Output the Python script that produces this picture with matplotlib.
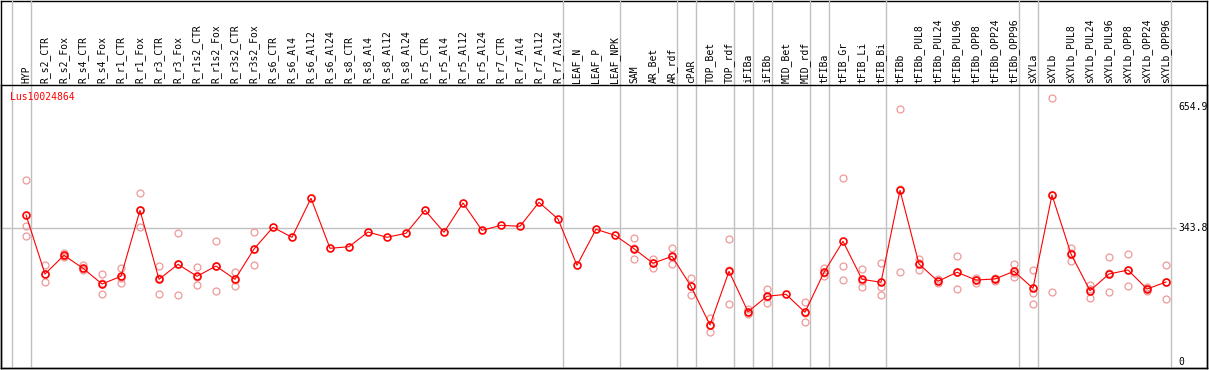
import numpy as np
import matplotlib
matplotlib.use('Agg')
import matplotlib.pyplot as plt
import matplotlib.transforms as mtransforms

gene = 'Lus10024864'

samples = ['HYP', 'R_s2_CTR', 'R_s2_Fox', 'R_s4_CTR', 'R_s4_Fox', 'R_r1_CTR', 'R_r1_Fox',
           'R_r3_CTR', 'R_r3_Fox', 'R_r1s2_CTR', 'R_r1s2_Fox', 'R_r3s2_CTR', 'R_r3s2_Fox',
           'R_s6_CTR', 'R_s6_Al4', 'R_s6_Al12', 'R_s6_Al24', 'R_s8_CTR', 'R_s8_Al4',
           'R_s8_Al12', 'R_s8_Al24', 'R_r5_CTR', 'R_r5_Al4', 'R_r5_Al12', 'R_r5_Al24',
           'R_r7_CTR', 'R_r7_Al4', 'R_r7_Al12', 'R_r7_Al24', 'LEAF_N', 'LEAF_P', 'LEAF_NPK',
           'SAM', 'AR_Bet', 'AR_rdf', 'cPAR', 'TOP_Bet', 'TOP_rdf', 'iFIBa', 'iFIBb',
           'MID_Bet', 'MID_rdf', 'tFIBa', 'tFIB_Gr', 'tFIB_Li', 'tFIB_Bi', 'tFIBb',
           'tFIBb_PUL8', 'tFIBb_PUL24', 'tFIBb_PUL96', 'tFIBb_OPP8', 'tFIBb_OPP24',
           'tFIBb_OPP96', 'sXYLa', 'sXYLb', 'sXYLb_PUL8', 'sXYLb_PUL24', 'sXYLb_PUL96',
           'sXYLb_OPP8', 'sXYLb_OPP24', 'sXYLb_OPP96']

# media de las replicas
media = [377.6, 225.7, 273.9, 240.4, 200.0, 219.8, 389.7, 212.1, 250.7, 219.8, 246.3, 212.1,
         290.1, 345.9, 320.2, 420.6, 291.9, 296.0, 333.8, 320.2, 330.5, 389.7, 333.1, 408.5,
         338.2, 351.1, 348.5, 410.3, 367.3, 248.1, 340.8, 325.4, 290.9, 253.3, 271.3, 194.1,
         94.5, 232.7, 128.7, 168.3, 173.5, 127.2, 230.1, 309.9, 212.1, 204.4, 441.2, 251.5,
         207.0, 230.1, 210.3, 212.9, 232.7, 188.9, 429.1, 277.2, 182.8, 225.7, 236.0, 187.1,
         205.1]

N = None
rep1 = [467.6, 248.1, 280.6, 248.1, 225.0, 241.2, 433.5, 245.6, 330.5, 243.8, 310.7, 230.9,
        333.1, N, N, N, N, N, N, N, N, N, N, N, N, N, N, N, N, N, N, N,
        317.6, 264.3, 291.9, 215.4, 113.3, 315.1, 135.6, 186.4, N,
        154.4, 241.2, 472.1, 237.8, 253.3, 649.7, 264.3, 211.6, 272.1, 216.2, 216.7, 251.5,
        235.3, 678.0, 292.7, 198.2, 269.5, 277.2, 191.5, 248.9]
rep2 = [348.5, 204.4, 268.7, 237.8, 173.5, 201.8, 345.9, 175.0, 170.9, 196.7, 181.2, 194.1,
        248.1, N, N, N, N, N, N, N, N, N, N, N, N, N, N, N, N, N, N, N,
        263.6, 241.2, 252.3, 170.9, 75.7, 147.7, 122.8, 151.1, N,
        101.4, 220.6, 245.6, 191.5, 193.1, 230.1, 235.3, 207.0, 186.4, 203.3, 212.9, 217.2,
        177.6, 179.4, 258.4, 164.0, 179.4, 194.9, 181.2, 161.4]
rep3 = [322.8, 224.7, 272.0, 235.3, 201.5, 216.2, 389.4, 215.4, 250.5, 218.8, 247.1, 211.1,
        289.1, N, N, N, N, N, N, N, N, N, N, N, N, N, N, N, N, N, N, N,
        291.6, 254.0, 269.5, 195.6, 94.5, 235.0, 127.9, 167.3, N,
        125.4, 228.3, 209.5, 206.7, 170.9, 443.5, 254.0, 202.6, 231.7, 211.1, 209.0, 229.1,
        147.7, 429.9, 280.6, 186.4, 228.3, 236.0, 189.7, 205.1]

# separadores de grupos (despues de la columna indicada)
grupos = [-1, 0, 28, 31, 34, 35, 37, 38, 39, 41, 42, 45, 52, 53, 60]

etiquetas_y = [654.9, 343.8, 0]

W, H = 1209, 370
fig = plt.figure(figsize=(W / 100, H / 100), dpi=100)

marco = fig.add_axes([1 / W, 2 / H, 1206 / W, 367.5 / H])
marco.set_xticks([])
marco.set_yticks([])
marco.patch.set_alpha(0)
for s in marco.spines.values():
    s.set_linewidth(1.0)
    s.set_color('black')

ax = fig.add_axes([1 / W, 2 / H, 1206 / W, 283 / H])
ax.patch.set_alpha(0)
ax.set_xticks([])
ax.set_yticks([])
for s in ax.spines.values():
    s.set_linewidth(1.0)
    s.set_color('black')
    s.set_zorder(5)

ax.set_xlim((1 - 26) / 19, (1207 - 26) / 19)
ax.set_ylim((361.7 - 368) / 0.3885, (361.7 - 85) / 0.3885)

x = np.arange(len(samples))
tr = mtransforms.blended_transform_factory(ax.transData, ax.transAxes)
tr_y = mtransforms.blended_transform_factory(ax.transAxes, ax.transData)

ax.vlines(np.array(grupos) + 0.25, 0, 368 / 283, transform=tr, colors='#c0c0c0',
          linewidth=1.0, clip_on=False, zorder=1)
ax.hlines(343.8, (1 - 26) / 19, (1176 - 26) / 19, colors='#c0c0c0', linewidth=1.0, zorder=1)

for i, nombre in enumerate(samples):
    ax.text(i, 1.007, nombre, transform=tr, rotation=90, ha='center', va='bottom',
            fontsize=7, family='DejaVu Sans Mono', clip_on=False)

for v in etiquetas_y:
    ax.text(0.9765, v, '%g' % v, transform=tr_y, ha='left', va='center',
            fontsize=7, family='DejaVu Sans Mono')

ax.text((10 - 1) / 1206, (368 - 97) / 283, gene, transform=ax.transAxes, ha='left',
        va='center', color='red', fontsize=7, family='DejaVu Sans Mono')

for rep in [rep1, rep2, rep3]:
    r = np.array([np.nan if v is None else v for v in rep])
    ax.plot(x, r, 'o', markersize=5, markerfacecolor='none', markeredgecolor='#ee9999',
            markeredgewidth=0.9, zorder=2)

ax.plot(x, media, '-', color='red', linewidth=0.8, zorder=3)
ax.plot(x, media, 'o', markersize=5, markerfacecolor='none', markeredgecolor='red',
        markeredgewidth=1.2, zorder=4)

fig.savefig('out.png', dpi=100)
